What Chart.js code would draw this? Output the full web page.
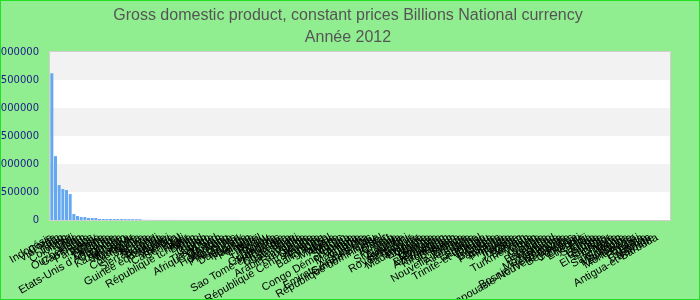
<!DOCTYPE html>
<html>
<head>
<meta charset="utf-8">
<script src="https://cdn.jsdelivr.net/npm/chart.js@4"></script>
<style>
html,body{margin:0;padding:0;background:#90EE90;}
canvas{display:block;}
</style>
</head>
<body>
<canvas id="c" width="700" height="300"></canvas>
<script>
const titleLines = ['Gross domestic product, constant prices Billions National currency', 'Année 2012'];

const categories = [
'Indonésie','Corée','Viet Nam','Iran','Japon','Colombie','Chili','Inde','Liban','Ouzbékistan',
'Cambodge','Laos','Paraguay','Russie','Chine','Hongrie','Tanzanie',"Etats-Unis d'Amérique",'Ouganda','Guinée',
'Kazakhstan','Sri Lanka','Myanmar','Mongolie','Nigéria',"Côte d'Ivoire",'Kenya','Islande','Sierra Leone','Burundi',
'Rwanda','Guinée équatoriale','Malawi','Zambie','Cameroun','Sénégal','Mali','Niger','République tchèque','Bénin',
'Togo','Tchad','Gabon','Congo','Thaïlande','Afrique du Sud','Taïwan','Mexique','Hong Kong','Argentine',
'Philippines','Suède','Danemark','Norvège','Pakistan','Pologne','Egypte','Brésil','Pérou','Uruguay',
'Bolivie','Guatemala','Honduras','Sao Tomé-et-Principe','Nicaragua','Costa Rica','Jamaïque','Haïti','Arabie saoudite','Roumanie',
'Serbie','Ukraine','République Centrafricaine','Arménie','Ethiopie','Bangladesh','Népal','Malaisie','Algérie','Maroc',
'Soudan','Ghana','Congo Démocratique','Angola','Mauritanie','Gambie','Libéria','Emirats Arabes Unis','Guinée-Bissau','République dominicaine',
'Israël','Qatar','Koweït','Iraq','Slovaquie','Canada','Australie','Royaume-Uni','Singapour','Turquie',
'Madagascar','Bulgarie','Croatie','Albanie','Géorgie','Moldavie','Biélorussie','Azerbaïdjan','Tadjikistan','Kirghizistan',
'Bhoutan','Suisse','France','Nouvelle-Zélande','Allemagne','Italie','Espagne','Portugal','Trinité-et-Tobago','Vanuatu',
'Grèce','Belgique','Pays-Bas','Autriche','Finlande','Irlande','Tunisie','Jordanie','Oman','Bahreïn',
'Turkménistan','Libye','Yémen','Syrie','Namibie','Botswana','Lesotho','Swaziland','Mozambique','Maurice',
'Bosnie-Herzégovine','Papouasie-Nouvelle-Guinée','Seychelles','Comores','Djibouti','Erythrée','Fidji','Samoa','Tonga','Estonie',
'Lettonie','Lituanie','El Salvador','Chypre','Malte','Saint-Marin','Slovénie','Macédoine','Zimbabwe','Monténégro',
'Brunéi','Panama','Belize','Bahamas','Barbade','Antigua-et-Barbuda','','',''
];

const gdpValues = [
2620000,1140000,624000,553000,535000,463000,107000,71000,53000,52000,
36500,36000,35500,19000,18500,18000,17500,17000,16500,16000,
15500,15000,14500,14000,13500,2900,2600,2350,2200,2050,
1900,1800,1650,1560,1480,1400,1320,1250,1190,1130,
1070,1010,960,910,870,830,790,750,720,690,
650,620,600,570,540,520,500,480,455,430,
410,395,380,360,345,330,318,305,290,280,
268,255,244,232,221,212,203,195,186,178,
170,162,155,148,141,135,129,123,118,112,
107,102,97,93,89,85,81,77,74,70,
67,64,61,58,55,53,50,48,46,43,
41,39,37,35,33.5,32,30,28.5,27,25.5,
24,22.8,21.5,20.2,19,17.9,16.8,15.7,14.7,13.8,
12.9,12,11.2,10.4,9.7,9,8.3,7.7,7.1,6.5,
6,5.5,5,4.6,4.2,3.8,3.4,3.1,2.8,2.5,
2.2,1.9,1.7,1.5,1.3,1.1,0.9,0.75,0.6,0.5,
0.4,0.3,0.25,0.2,0.15,0.1,0.08,0.05,0.03
];

const yMin = 0, yMax = 3000000, yStep = 500000;

const decorPlugin = {
  id: 'decor',
  beforeDraw(chart) {
    const {ctx, chartArea: a, scales: {y}} = chart;
    ctx.save();
    ctx.fillStyle = '#90EE90';
    ctx.fillRect(0, 0, chart.width, chart.height);
    ctx.fillStyle = '#ffffff';
    ctx.fillRect(a.left, a.top, a.right - a.left, a.bottom - a.top);
    const t = y.ticks;
    for (let i = 0; i < t.length - 1; i++) {
      if (i % 2 === 1) {
        const y1 = y.getPixelForValue(t[i].value);
        const y2 = y.getPixelForValue(t[i + 1].value);
        ctx.fillStyle = '#f2f2f2';
        ctx.fillRect(a.left, y2, a.right - a.left, y1 - y2);
      }
    }
    ctx.restore();
  },
  afterDatasetsDraw(chart) {
    const {ctx, chartArea: a} = chart;
    ctx.save();
    ctx.strokeStyle = '#d0d0d0';
    ctx.lineWidth = 1;
    ctx.strokeRect(Math.round(a.left) - 0.5, Math.round(a.top) - 0.5,
                   Math.round(a.right - a.left) + 1, Math.round(a.bottom - a.top) + 1);
    ctx.restore();
  },
  afterDraw(chart) {
    const {ctx} = chart;
    ctx.save();
    ctx.strokeStyle = '#22e022';
    ctx.lineWidth = 1;
    ctx.strokeRect(0.5, 0.5, chart.width - 1, chart.height - 1);
    ctx.restore();
  }
};

new Chart(document.getElementById('c'), {
  type: 'bar',
  data: {
    labels: categories,
    datasets: [{
      data: gdpValues,
      backgroundColor: '#64a8f0',
      borderWidth: 0,
      barPercentage: 0.95,
      categoryPercentage: 0.86
    }]
  },
  options: {
    responsive: false,
    animation: false,
    devicePixelRatio: 1,
    layout: { padding: { left: 0, right: 4, top: 0, bottom: 0 } },
    plugins: {
      legend: { display: false },
      tooltip: { enabled: false },
      title: {
        display: true,
        text: titleLines,
        color: '#555555',
        font: { family: 'Arial, "Liberation Sans", sans-serif', size: 16, weight: 'normal', lineHeight: 1.40625 },
        padding: { top: 4, bottom: 3 }
      }
    },
    scales: {
      x: {
        grid: { display: false },
        border: { display: false },
        ticks: {
          autoSkip: false,
          minRotation: 30,
          maxRotation: 30,
          padding: 3,
          color: '#000000',
          font: { family: 'Arial, "Liberation Sans", sans-serif', size: 11 }
        },
        afterFit(scale) { scale.height = 80; }
      },
      y: {
        min: yMin,
        max: yMax,
        grid: { display: false, drawTicks: false },
        border: { display: false },
        ticks: {
          stepSize: yStep,
          padding: 11,
          color: '#1a1a88',
          font: { family: 'Verdana, "DejaVu Sans", sans-serif', size: 10 },
          callback: v => String(v)
        },
        afterFit(scale) { scale.width = 50; }
      },
      yRight: {
        type: 'linear',
        position: 'right',
        display: true,
        grid: { display: false, drawTicks: false },
        border: { display: false },
        ticks: { display: false },
        afterFit(scale) { scale.width = 26; }
      }
    }
  },
  plugins: [decorPlugin]
});
</script>
</body>
</html>
